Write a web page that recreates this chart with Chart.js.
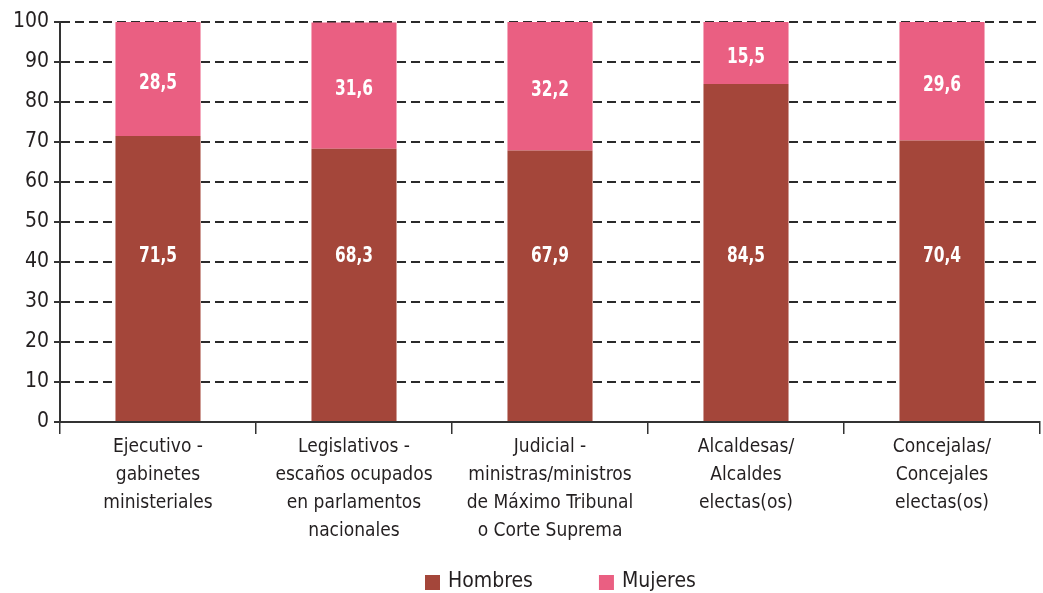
<!DOCTYPE html>
<html>
<head>
  <meta charset="utf-8" />
  <title>Hombres y mujeres en cargos de decisión</title>
  <script src="https://cdn.jsdelivr.net/npm/chart.js@4"></script>
  <style>
    html, body {
      margin: 0;
      padding: 0;
      background: #fff;
    }
    #wrap {
      width: 1043px;
      height: 593px;
    }
  </style>
</head>
<body>
  <div id="wrap">
    <canvas id="chart" width="1043" height="593"></canvas>
  </div>

  <script>
    // categorias (eje x, en varias lineas)
    const categories = [
      ['Ejecutivo -', 'gabinetes', 'ministeriales'],
      ['Legislativos -', 'escaños ocupados', 'en parlamentos', 'nacionales'],
      ['Judicial -', 'ministras/ministros', 'de Máximo Tribunal', 'o Corte Suprema'],
      ['Alcaldesas/', 'Alcaldes', 'electas(os)'],
      ['Concejalas/', 'Concejales', 'electas(os)']
    ];

    // porcentajes
    const hombres = [71.5, 68.3, 67.9, 84.5, 70.4];
    const mujeres = [28.5, 31.6, 32.2, 15.5, 29.6];

    const seriesNames = ['Hombres', 'Mujeres'];
    const seriesColors = ['#a4463a', '#ea5f82'];

    const FONT = "'Liberation Sans Narrow', 'DejaVu Sans Condensed', sans-serif";
    const TEXT = '#231f20';
    Chart.defaults.font.family = FONT;
    Chart.defaults.color = TEXT;

    // etiquetas blancas dentro de cada segmento
    // (en el original las de Hombres van todas a la misma altura, ~42 en el eje)
    const barLabels = {
      id: 'barLabels',
      afterDatasetsDraw(chart) {
        const ctx = chart.ctx;
        const yScale = chart.scales.y;
        const squeeze = 0.78; // letra estrecha como en el original
        ctx.save();
        ctx.fillStyle = '#fff';
        ctx.font = 'bold 22px ' + FONT;
        ctx.textAlign = 'center';
        ctx.textBaseline = 'middle';
        chart.data.datasets.forEach((ds, i) => {
          const meta = chart.getDatasetMeta(i);
          meta.data.forEach((bar, j) => {
            const p = bar.getProps(['x', 'y', 'base'], true);
            const txt = ds.data[j].toFixed(1).replace('.', ',');
            const ty = i === 0 ? yScale.getPixelForValue(41.5) : (p.y + p.base) / 2 + 4;
            ctx.save();
            ctx.translate(p.x, ty);
            ctx.scale(squeeze, 1);
            ctx.fillText(txt, 0, 0);
            ctx.restore();
          });
        });
        ctx.restore();
      }
    };

    // leyenda abajo (cuadro + texto, con mas separacion que la de Chart.js)
    const bottomLegend = {
      id: 'bottomLegend',
      afterDraw(chart) {
        const ctx = chart.ctx;
        ctx.save();
        ctx.font = '21px ' + FONT;
        ctx.textBaseline = 'middle';
        ctx.textAlign = 'left';
        const y = 582;
        let x = 425;
        chart.data.datasets.forEach(ds => {
          ctx.fillStyle = ds.backgroundColor;
          ctx.fillRect(x, y - 7, 15, 15);
          ctx.fillStyle = TEXT;
          ctx.fillText(ds.label, x + 23, y);
          x += 23 + ctx.measureText(ds.label).width + 66;
        });
        ctx.restore();
      }
    };

    new Chart(document.getElementById('chart'), {
      type: 'bar',
      data: {
        labels: categories,
        datasets: [
          { label: seriesNames[0], data: hombres, backgroundColor: seriesColors[0] },
          { label: seriesNames[1], data: mujeres, backgroundColor: seriesColors[1] }
        ]
      },
      options: {
        responsive: false,
        animation: false,
        layout: {
          padding: { top: 22, right: 3, left: 0, bottom: 0 }
        },
        datasets: {
          bar: {
            barPercentage: 0.434,
            categoryPercentage: 1
          }
        },
        plugins: {
          legend: { display: false },
          tooltip: { enabled: false }
        },
        scales: {
          x: {
            stacked: true,
            offset: true,
            afterFit: s => { s.height = 171; },
            grid: {
              offset: true,
              drawOnChartArea: false,
              tickLength: 12,
              color: '#333',
              lineWidth: 1.5
            },
            border: { color: '#333', width: 2 },
            ticks: {
              autoSkip: false,
              maxRotation: 0,
              padding: -1,
              color: TEXT,
              font: { size: 19, lineHeight: 1.47 }
            }
          },
          y: {
            stacked: true,
            min: 0,
            max: 100,
            afterFit: s => { s.width = 60; },
            grid: {
              color: '#2a2a2a',
              lineWidth: 2,
              tickLength: 6,
              tickColor: '#333'
            },
            border: { color: '#333', width: 2, dash: [9, 5] },
            ticks: {
              stepSize: 10,
              padding: 5,
              color: TEXT,
              font: { size: 21 }
            }
          }
        }
      },
      plugins: [barLabels, bottomLegend]
    });
  </script>
</body>
</html>
